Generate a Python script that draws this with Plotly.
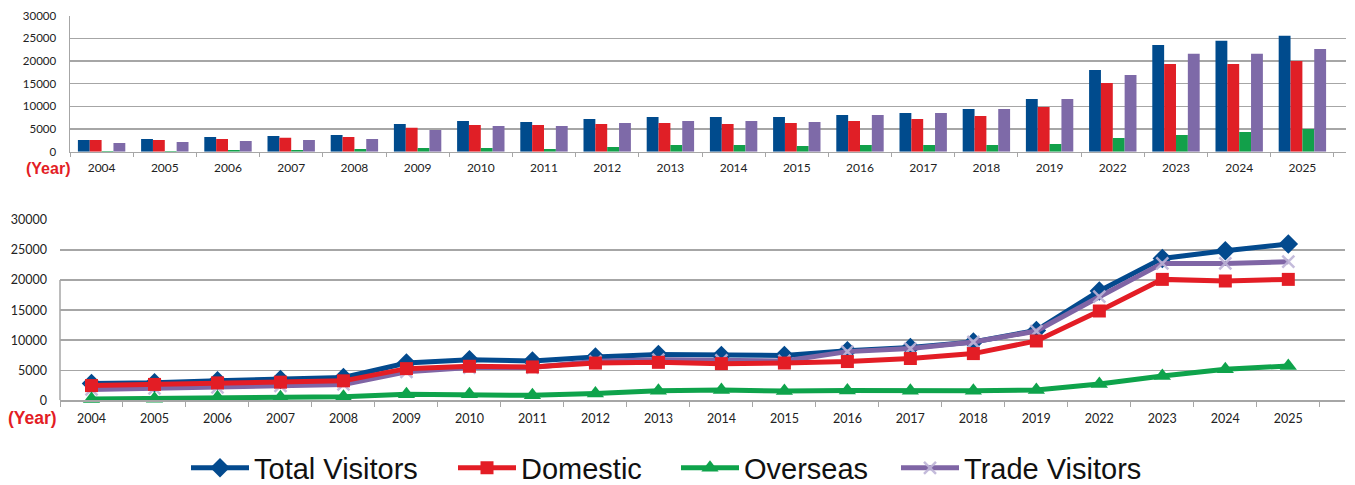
import plotly.graph_objects as go

years = ["2004", "2005", "2006", "2007", "2008", "2009", "2010", "2011", "2012", "2013",
         "2014", "2015", "2016", "2017", "2018", "2019", "2022", "2023", "2024", "2025"]

# Bar chart values (top)
bar_total = [2580, 2800, 3240, 3460, 3680, 6110, 6780, 6550, 7220, 7660,
             7660, 7660, 8100, 8540, 9430, 11630, 18040, 23560, 24450, 25550]
bar_domestic = [2580, 2580, 2800, 3090, 3240, 5300, 5890, 5890, 6110, 6330,
                6110, 6330, 6780, 7220, 7880, 9870, 15170, 19370, 19370, 20030]
bar_overseas = [150, 150, 370, 370, 590, 810, 810, 590, 1030, 1470,
                1470, 1250, 1470, 1470, 1470, 1690, 3020, 3680, 4350, 5010]
bar_trade = [1920, 2140, 2360, 2580, 2800, 4790, 5670, 5670, 6330, 6780,
             6780, 6550, 8100, 8540, 9430, 11630, 16940, 21580, 21580, 22680]

# Line chart values (bottom)
line_total = [2800, 2900, 3240, 3460, 3790, 6200, 6760, 6540, 7200, 7640,
              7470, 7470, 8250, 8800, 9700, 11630, 18180, 23610, 24890, 26000]
line_domestic = [2450, 2640, 2900, 3020, 3240, 5270, 5660, 5550, 6200, 6320,
                 6100, 6200, 6450, 6950, 7770, 9870, 14860, 20120, 19850, 20120]
line_overseas = [200, 270, 500, 500, 600, 1000, 1000, 820, 1150, 1590,
                 1700, 1540, 1650, 1600, 1600, 1710, 2720, 4050, 5160, 5710]
line_trade = [1810, 1980, 2140, 2420, 2640, 4730, 5440, 5440, 6480, 6760,
              6650, 6540, 8100, 8600, 9700, 11520, 17240, 22780, 22780, 23060]

names = ["Total Visitors", "Domestic", "Overseas", "Trade Visitors"]
bar_colors = ["#004b8d", "#e01f26", "#12a04a", "#7e6aa8"]
line_colors = ["#034a8e", "#e31d25", "#0ea34b", "#7f65a5"]

fig = go.Figure()

for name, vals, col in zip(names, [bar_total, bar_domestic, bar_overseas, bar_trade], bar_colors):
    fig.add_trace(go.Bar(x=years, y=vals, name=name, marker=dict(color=col, line=dict(width=0)),
                         showlegend=False, xaxis="x", yaxis="y"))

# line traces: draw order blue, purple, red, green
fig.add_trace(go.Scatter(x=years, y=line_total, name=names[0], mode="lines+markers",
                         line=dict(color=line_colors[0], width=5),
                         marker=dict(symbol="diamond", size=15, color=line_colors[0]),
                         xaxis="x2", yaxis="y2", legendrank=1, legendwidth=194, cliponaxis=False))
fig.add_trace(go.Scatter(x=years, y=line_trade, name=names[3], mode="lines+markers",
                         line=dict(color=line_colors[3], width=5),
                         marker=dict(symbol="x-thin", size=12,
                                     line=dict(color="rgba(190,180,215,0.9)", width=2.5)),
                         xaxis="x2", yaxis="y2", legendrank=4, legendwidth=190, cliponaxis=False))
fig.add_trace(go.Scatter(x=years, y=line_domestic, name=names[1], mode="lines+markers",
                         line=dict(color=line_colors[1], width=5),
                         marker=dict(symbol="square", size=13, color=line_colors[1]),
                         xaxis="x2", yaxis="y2", legendrank=2, legendwidth=150, cliponaxis=False))
fig.add_trace(go.Scatter(x=years, y=line_overseas, name=names[2], mode="lines+markers",
                         line=dict(color=line_colors[2], width=5),
                         marker=dict(symbol="triangle-up", size=15, color=line_colors[2]),
                         xaxis="x2", yaxis="y2", legendrank=3, legendwidth=147, cliponaxis=False))

tick_font = dict(family="Lato, Liberation Sans, sans-serif", size=11.5, color="#222222")
grid_col = "#a6a6a6"

fig.update_layout(
    width=1355, height=485,
    margin=dict(l=0, r=0, t=0, b=0, autoexpand=False),
    paper_bgcolor="white", plot_bgcolor="white",
    barmode="group", bargap=0.25, bargroupgap=0,
    xaxis=dict(domain=[70 / 1355, 1346 / 1355], type="category", range=[-0.5, 19.69],
               tickson="boundaries", ticks="outside", ticklen=4, tickcolor=grid_col,
               showline=True, linecolor=grid_col, linewidth=1.5, showgrid=False,
               ticklabelstandoff=4,
               tickfont=dict(family="Lato, Liberation Sans, sans-serif", size=12, color="#222222"),
               anchor="y", fixedrange=True),
    yaxis=dict(domain=[(485 - 151.7) / 485, (485 - 15.7) / 485], range=[0, 30000],
               tickvals=[0, 5000, 10000, 15000, 20000, 25000, 30000],
               ticktext=["0", "5000", "10000", "15000", "20000", "25000", "30000"],
               showgrid=True, gridcolor=grid_col, gridwidth=1.5,
               showline=True, linecolor=grid_col, linewidth=1.5,
               ticks="", ticklabelstandoff=10, tickfont=tick_font,
               zeroline=False, anchor="x", fixedrange=True),
    xaxis2=dict(domain=[60 / 1355, 1345 / 1355], type="category", range=[-0.5, 19.9],
                tickson="boundaries", ticks="outside", ticklen=5, tickcolor=grid_col,
                showline=True, linecolor=grid_col, linewidth=1.5, showgrid=False,
                ticklabelstandoff=6,
                tickfont=dict(family="Lato, Liberation Sans, sans-serif", size=12.5, color="#222222"),
                anchor="y2", fixedrange=True),
    yaxis2=dict(domain=[(485 - 400.3) / 485, (485 - 220) / 485], range=[0, 30000],
                tickvals=[0, 5000, 10000, 15000, 20000, 25000, 30000],
                ticktext=["0", "5000", "10000", "15000", "20000", "25000", "30000"],
                showgrid=True, gridcolor=grid_col, gridwidth=1.5,
                showline=False, ticks="", ticklabelstandoff=12,
                tickfont=dict(family="Lato, Liberation Sans, sans-serif", size=12.5, color="#222222"),
                zeroline=False, anchor="x2", fixedrange=True),
    legend=dict(orientation="h", x=186 / 1355, xanchor="left", y=(485 - 468) / 485, yanchor="middle",
                font=dict(family="Liberation Sans, Arial, sans-serif", size=29, color="#111111"),
                bgcolor="rgba(0,0,0,0)", itemwidth=58, traceorder="normal"),
    showlegend=True,
)

# partial vertical axis line of lower chart
fig.add_shape(type="line", xref="x2 domain", yref="y2", x0=0, x1=0, y0=0, y1=20000,
              line=dict(color=grid_col, width=1.5))

year_font = dict(family="Liberation Sans, Arial, sans-serif", color="#e31d25")
fig.add_annotation(text="<b>(Year)</b>", xref="paper", yref="paper", x=72 / 1355, xanchor="right",
                   y=(485 - 168) / 485, yanchor="middle", showarrow=False,
                   font=dict(size=16, **year_font))
fig.add_annotation(text="<b>(Year)</b>", xref="paper", yref="paper", x=6 / 1355, xanchor="left",
                   y=(485 - 418) / 485, yanchor="middle", showarrow=False,
                   font=dict(size=17.5, **year_font))

fig.write_html("out.html", config={"displayModeBar": False, "staticPlot": True},
               post_script="document.body.style.margin='0';document.body.style.overflow='hidden';")
